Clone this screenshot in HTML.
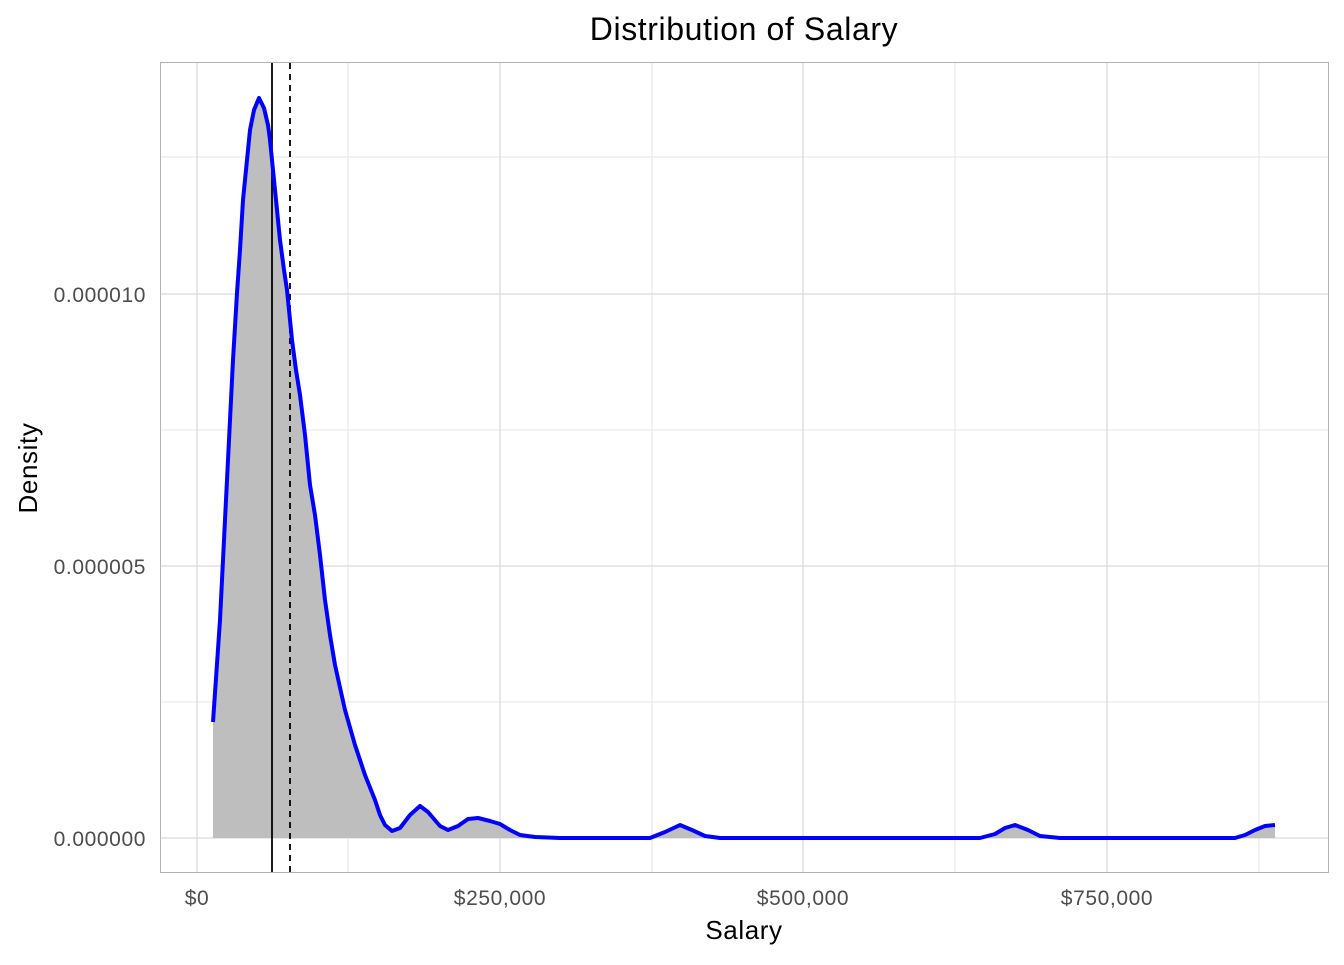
<!DOCTYPE html>
<html><head><style>body{margin:0;background:#fff}svg text{font-family:"Liberation Sans",sans-serif}</style></head><body>
<svg width="1344" height="960" xmlns="http://www.w3.org/2000/svg">
<rect x="160.5" y="62.5" width="1168" height="810" fill="#fff" stroke="#b3b3b3"/>
<g stroke="#e6e6e6" stroke-width="1">
<line x1="348" y1="63" x2="348" y2="872"/><line x1="652" y1="63" x2="652" y2="872"/><line x1="955" y1="63" x2="955" y2="872"/><line x1="1259" y1="63" x2="1259" y2="872"/>
<line x1="161" y1="702" x2="1328" y2="702"/><line x1="161" y1="430" x2="1328" y2="430"/><line x1="161" y1="157" x2="1328" y2="157"/>
</g>
<g stroke="#d9d9d9" stroke-width="1.2">
<line x1="197" y1="63" x2="197" y2="872"/><line x1="500" y1="63" x2="500" y2="872"/><line x1="803" y1="63" x2="803" y2="872"/><line x1="1107" y1="63" x2="1107" y2="872"/>
<line x1="161" y1="838" x2="1328" y2="838"/><line x1="161" y1="566" x2="1328" y2="566"/><line x1="161" y1="294" x2="1328" y2="294"/>
</g>
<polygon fill="#bebebe" points="213,838 213,722 220,620 227,480 233,360 237,293 240,250 243,200 247,160 250,130 254,110 259,98 264,108 268,125 270,140 273,170 276,200 280,240 284,270 287,290 292,340 296,370 300,395 305,435 310,485 315,515 320,555 325,600 330,635 335,665 345,710 355,745 365,775 375,800 380,815 385,825 392,831 400,828 410,815 420,806 428,812 440,826 448,830 458,826 468,819 478,818 490,821 500,824 510,830 520,835 535,837 560,838 650,838 665,832 680,825 692,830 705,836 720,838 980,838 995,834 1005,828 1015,825 1028,830 1040,836 1060,838 1235,838 1245,835 1255,830 1265,826 1275,825 1275,838"/>
<line x1="272" y1="63" x2="272" y2="872" stroke="#000" stroke-width="1.8"/>
<line x1="290" y1="63" x2="290" y2="872" stroke="#000" stroke-width="1.8" stroke-dasharray="6,5"/>
<polyline fill="none" stroke="#0000ff" stroke-width="4" stroke-linejoin="round" stroke-linecap="butt" points="213,722 220,620 227,480 233,360 237,293 240,250 243,200 247,160 250,130 254,110 259,98 264,108 268,125 270,140 273,170 276,200 280,240 284,270 287,290 292,340 296,370 300,395 305,435 310,485 315,515 320,555 325,600 330,635 335,665 345,710 355,745 365,775 375,800 380,815 385,825 392,831 400,828 410,815 420,806 428,812 440,826 448,830 458,826 468,819 478,818 490,821 500,824 510,830 520,835 535,837 560,838 650,838 665,832 680,825 692,830 705,836 720,838 980,838 995,834 1005,828 1015,825 1028,830 1040,836 1060,838 1235,838 1245,835 1255,830 1265,826 1275,825"/>
<g font-size="21" fill="#4d4d4d" letter-spacing="0.6">
<text x="146" y="846" text-anchor="end">0.000000</text>
<text x="146" y="574" text-anchor="end">0.000005</text>
<text x="146" y="302" text-anchor="end">0.000010</text>
<text x="197" y="905" text-anchor="middle">$0</text>
<text x="500" y="905" text-anchor="middle">$250,000</text>
<text x="803" y="905" text-anchor="middle">$500,000</text>
<text x="1107" y="905" text-anchor="middle">$750,000</text>
</g>
<text x="744" y="939" font-size="26" letter-spacing="0.6" text-anchor="middle">Salary</text>
<text transform="translate(37,468) rotate(-90)" font-size="26" letter-spacing="0.6" text-anchor="middle">Density</text>
<text x="744" y="40" font-size="32" letter-spacing="0.6" text-anchor="middle">Distribution of Salary</text>
</svg>
</body></html>
